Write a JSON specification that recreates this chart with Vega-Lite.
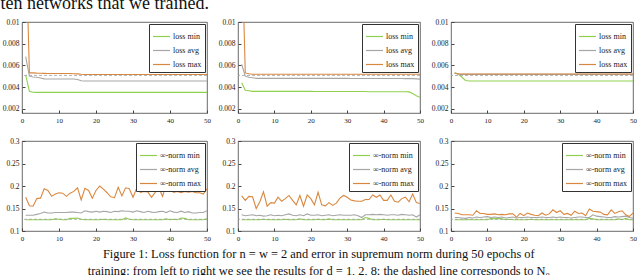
{
 "$schema": "https://vega.github.io/schema/vega-lite/v6.json",
 "padding": {"left": 0, "top": -6, "right": 0, "bottom": 0},
 "background": "white",
 "datasets": {
  "ref": [{"row": "loss", "value": 0.00507}, {"row": "norm", "value": 0.126}],
  "runs": [
{"p":"A","e":1,"min":0.0051,"avg":0.0068,"max":0.018},
{"p":"A","e":2,"min":0.0036,"avg":0.005,"max":0.0053},
{"p":"A","e":3,"min":0.00352,"avg":0.00492,"max":0.0053},
{"p":"A","e":4,"min":0.0035,"avg":0.0049,"max":0.00528},
{"p":"A","e":5,"min":0.0035,"avg":0.00483,"max":0.00527},
{"p":"A","e":6,"min":0.0035,"avg":0.00475,"max":0.00526},
{"p":"A","e":7,"min":0.0035,"avg":0.00474,"max":0.00524},
{"p":"A","e":8,"min":0.0035,"avg":0.00474,"max":0.00524},
{"p":"A","e":9,"min":0.0035,"avg":0.00474,"max":0.00524},
{"p":"A","e":10,"min":0.0035,"avg":0.00474,"max":0.00524},
{"p":"A","e":11,"min":0.0035,"avg":0.00474,"max":0.00524},
{"p":"A","e":12,"min":0.0035,"avg":0.00474,"max":0.00524},
{"p":"A","e":13,"min":0.0035,"avg":0.00474,"max":0.00524},
{"p":"A","e":14,"min":0.0035,"avg":0.00474,"max":0.00522},
{"p":"A","e":15,"min":0.0035,"avg":0.0047,"max":0.00521},
{"p":"A","e":16,"min":0.0035,"avg":0.00458,"max":0.00517},
{"p":"A","e":17,"min":0.0035,"avg":0.00455,"max":0.00516},
{"p":"A","e":18,"min":0.0035,"avg":0.00455,"max":0.00516},
{"p":"A","e":19,"min":0.0035,"avg":0.00455,"max":0.00516},
{"p":"A","e":20,"min":0.0035,"avg":0.00455,"max":0.00516},
{"p":"A","e":21,"min":0.0035,"avg":0.00455,"max":0.00516},
{"p":"A","e":22,"min":0.0035,"avg":0.00455,"max":0.00516},
{"p":"A","e":23,"min":0.0035,"avg":0.00455,"max":0.00516},
{"p":"A","e":24,"min":0.0035,"avg":0.00455,"max":0.00516},
{"p":"A","e":25,"min":0.0035,"avg":0.00455,"max":0.00516},
{"p":"A","e":26,"min":0.0035,"avg":0.00455,"max":0.00516},
{"p":"A","e":27,"min":0.0035,"avg":0.00455,"max":0.00516},
{"p":"A","e":28,"min":0.0035,"avg":0.00455,"max":0.00516},
{"p":"A","e":29,"min":0.0035,"avg":0.00455,"max":0.00516},
{"p":"A","e":30,"min":0.0035,"avg":0.00455,"max":0.00516},
{"p":"A","e":31,"min":0.0035,"avg":0.00455,"max":0.00516},
{"p":"A","e":32,"min":0.0035,"avg":0.00455,"max":0.00516},
{"p":"A","e":33,"min":0.0035,"avg":0.00455,"max":0.00516},
{"p":"A","e":34,"min":0.0035,"avg":0.00455,"max":0.00516},
{"p":"A","e":35,"min":0.0035,"avg":0.00455,"max":0.00516},
{"p":"A","e":36,"min":0.0035,"avg":0.00455,"max":0.00516},
{"p":"A","e":37,"min":0.0035,"avg":0.00455,"max":0.00516},
{"p":"A","e":38,"min":0.0035,"avg":0.00455,"max":0.00516},
{"p":"A","e":39,"min":0.0035,"avg":0.00455,"max":0.00516},
{"p":"A","e":40,"min":0.0035,"avg":0.00455,"max":0.00516},
{"p":"A","e":41,"min":0.0035,"avg":0.00455,"max":0.00516},
{"p":"A","e":42,"min":0.0035,"avg":0.00455,"max":0.00516},
{"p":"A","e":43,"min":0.0035,"avg":0.00455,"max":0.00516},
{"p":"A","e":44,"min":0.0035,"avg":0.00455,"max":0.00516},
{"p":"A","e":45,"min":0.0035,"avg":0.00455,"max":0.00516},
{"p":"A","e":46,"min":0.0035,"avg":0.00455,"max":0.00516},
{"p":"A","e":47,"min":0.0035,"avg":0.00455,"max":0.00516},
{"p":"A","e":48,"min":0.0035,"avg":0.00455,"max":0.00516},
{"p":"A","e":49,"min":0.0035,"avg":0.00455,"max":0.00516},
{"p":"A","e":50,"min":0.0035,"avg":0.00455,"max":0.00516},
{"p":"B","e":1,"min":0.0044,"avg":0.0061,"max":0.018},
{"p":"B","e":2,"min":0.0037,"avg":0.005,"max":0.0053},
{"p":"B","e":3,"min":0.00365,"avg":0.0049,"max":0.00522},
{"p":"B","e":4,"min":0.0036,"avg":0.00485,"max":0.00518},
{"p":"B","e":5,"min":0.0036,"avg":0.0048,"max":0.00518},
{"p":"B","e":6,"min":0.0036,"avg":0.0048,"max":0.00518},
{"p":"B","e":7,"min":0.0036,"avg":0.0048,"max":0.00518},
{"p":"B","e":8,"min":0.0036,"avg":0.0048,"max":0.00518},
{"p":"B","e":9,"min":0.0036,"avg":0.0048,"max":0.00518},
{"p":"B","e":10,"min":0.0036,"avg":0.0048,"max":0.00518},
{"p":"B","e":11,"min":0.0036,"avg":0.0048,"max":0.00518},
{"p":"B","e":12,"min":0.0036,"avg":0.0048,"max":0.00518},
{"p":"B","e":13,"min":0.0036,"avg":0.0048,"max":0.00518},
{"p":"B","e":14,"min":0.0036,"avg":0.0048,"max":0.00518},
{"p":"B","e":15,"min":0.0036,"avg":0.0048,"max":0.00518},
{"p":"B","e":16,"min":0.0036,"avg":0.0048,"max":0.00518},
{"p":"B","e":17,"min":0.0036,"avg":0.0048,"max":0.00518},
{"p":"B","e":18,"min":0.0036,"avg":0.0048,"max":0.00518},
{"p":"B","e":19,"min":0.0036,"avg":0.0048,"max":0.00518},
{"p":"B","e":20,"min":0.0036,"avg":0.0048,"max":0.00518},
{"p":"B","e":21,"min":0.00358,"avg":0.0048,"max":0.00518},
{"p":"B","e":22,"min":0.00358,"avg":0.0048,"max":0.00518},
{"p":"B","e":23,"min":0.00358,"avg":0.0048,"max":0.00518},
{"p":"B","e":24,"min":0.00358,"avg":0.0048,"max":0.00518},
{"p":"B","e":25,"min":0.00358,"avg":0.0048,"max":0.00518},
{"p":"B","e":26,"min":0.00358,"avg":0.0048,"max":0.00518},
{"p":"B","e":27,"min":0.00358,"avg":0.0048,"max":0.00518},
{"p":"B","e":28,"min":0.00358,"avg":0.0048,"max":0.00518},
{"p":"B","e":29,"min":0.00358,"avg":0.0048,"max":0.00518},
{"p":"B","e":30,"min":0.00358,"avg":0.0048,"max":0.00518},
{"p":"B","e":31,"min":0.00358,"avg":0.00478,"max":0.00518},
{"p":"B","e":32,"min":0.00358,"avg":0.00478,"max":0.00518},
{"p":"B","e":33,"min":0.00358,"avg":0.00478,"max":0.00518},
{"p":"B","e":34,"min":0.00358,"avg":0.00478,"max":0.00518},
{"p":"B","e":35,"min":0.00358,"avg":0.00478,"max":0.00518},
{"p":"B","e":36,"min":0.00356,"avg":0.00478,"max":0.00518},
{"p":"B","e":37,"min":0.00356,"avg":0.00478,"max":0.00518},
{"p":"B","e":38,"min":0.00356,"avg":0.00478,"max":0.00518},
{"p":"B","e":39,"min":0.00356,"avg":0.00478,"max":0.00518},
{"p":"B","e":40,"min":0.00356,"avg":0.00478,"max":0.00518},
{"p":"B","e":41,"min":0.00356,"avg":0.00478,"max":0.00518},
{"p":"B","e":42,"min":0.00356,"avg":0.00478,"max":0.00518},
{"p":"B","e":43,"min":0.00356,"avg":0.00478,"max":0.00518},
{"p":"B","e":44,"min":0.00356,"avg":0.00478,"max":0.00518},
{"p":"B","e":45,"min":0.00356,"avg":0.00478,"max":0.00518},
{"p":"B","e":46,"min":0.00356,"avg":0.00477,"max":0.00518},
{"p":"B","e":47,"min":0.00355,"avg":0.00477,"max":0.00518},
{"p":"B","e":48,"min":0.0034,"avg":0.00477,"max":0.00518},
{"p":"B","e":49,"min":0.0032,"avg":0.00475,"max":0.00518},
{"p":"B","e":50,"min":0.00305,"avg":0.00473,"max":0.00518},
{"p":"C","e":1,"min":0.0053,"avg":0.0053,"max":0.0053},
{"p":"C","e":2,"min":0.0052,"avg":0.00518,"max":0.00522},
{"p":"C","e":3,"min":0.0049,"avg":0.00517,"max":0.0052},
{"p":"C","e":4,"min":0.0046,"avg":0.00517,"max":0.0052},
{"p":"C","e":5,"min":0.00455,"avg":0.00517,"max":0.0052},
{"p":"C","e":6,"min":0.00455,"avg":0.00517,"max":0.0052},
{"p":"C","e":7,"min":0.00455,"avg":0.00517,"max":0.0052},
{"p":"C","e":8,"min":0.00455,"avg":0.00517,"max":0.0052},
{"p":"C","e":9,"min":0.00455,"avg":0.00517,"max":0.0052},
{"p":"C","e":10,"min":0.00455,"avg":0.00517,"max":0.0052},
{"p":"C","e":11,"min":0.00455,"avg":0.00517,"max":0.0052},
{"p":"C","e":12,"min":0.00455,"avg":0.00517,"max":0.0052},
{"p":"C","e":13,"min":0.00455,"avg":0.00517,"max":0.0052},
{"p":"C","e":14,"min":0.00455,"avg":0.00517,"max":0.0052},
{"p":"C","e":15,"min":0.00455,"avg":0.00517,"max":0.0052},
{"p":"C","e":16,"min":0.00455,"avg":0.00517,"max":0.0052},
{"p":"C","e":17,"min":0.00455,"avg":0.00517,"max":0.0052},
{"p":"C","e":18,"min":0.00455,"avg":0.00517,"max":0.0052},
{"p":"C","e":19,"min":0.00455,"avg":0.00517,"max":0.0052},
{"p":"C","e":20,"min":0.00455,"avg":0.00517,"max":0.0052},
{"p":"C","e":21,"min":0.00455,"avg":0.00517,"max":0.0052},
{"p":"C","e":22,"min":0.00455,"avg":0.00517,"max":0.0052},
{"p":"C","e":23,"min":0.00455,"avg":0.00517,"max":0.0052},
{"p":"C","e":24,"min":0.00455,"avg":0.00517,"max":0.0052},
{"p":"C","e":25,"min":0.00455,"avg":0.00517,"max":0.0052},
{"p":"C","e":26,"min":0.00455,"avg":0.00517,"max":0.0052},
{"p":"C","e":27,"min":0.00455,"avg":0.00517,"max":0.0052},
{"p":"C","e":28,"min":0.00455,"avg":0.00517,"max":0.0052},
{"p":"C","e":29,"min":0.00455,"avg":0.00517,"max":0.0052},
{"p":"C","e":30,"min":0.00455,"avg":0.00517,"max":0.0052},
{"p":"C","e":31,"min":0.00455,"avg":0.00517,"max":0.0052},
{"p":"C","e":32,"min":0.00455,"avg":0.00517,"max":0.0052},
{"p":"C","e":33,"min":0.00455,"avg":0.00517,"max":0.0052},
{"p":"C","e":34,"min":0.00455,"avg":0.00517,"max":0.0052},
{"p":"C","e":35,"min":0.00455,"avg":0.00517,"max":0.0052},
{"p":"C","e":36,"min":0.00455,"avg":0.00517,"max":0.0052},
{"p":"C","e":37,"min":0.00455,"avg":0.00517,"max":0.0052},
{"p":"C","e":38,"min":0.00455,"avg":0.00517,"max":0.0052},
{"p":"C","e":39,"min":0.00455,"avg":0.00517,"max":0.0052},
{"p":"C","e":40,"min":0.00455,"avg":0.00517,"max":0.0052},
{"p":"C","e":41,"min":0.00455,"avg":0.00517,"max":0.0052},
{"p":"C","e":42,"min":0.00455,"avg":0.00517,"max":0.0052},
{"p":"C","e":43,"min":0.00455,"avg":0.00517,"max":0.0052},
{"p":"C","e":44,"min":0.00455,"avg":0.00517,"max":0.0052},
{"p":"C","e":45,"min":0.00455,"avg":0.00517,"max":0.0052},
{"p":"C","e":46,"min":0.00455,"avg":0.00517,"max":0.0052},
{"p":"C","e":47,"min":0.00455,"avg":0.00517,"max":0.0052},
{"p":"C","e":48,"min":0.00455,"avg":0.00517,"max":0.0052},
{"p":"C","e":49,"min":0.00455,"avg":0.00517,"max":0.0052},
{"p":"C","e":50,"min":0.00455,"avg":0.00517,"max":0.0052},
{"p":"D","e":1,"min":0.125,"avg":0.135,"max":0.175},
{"p":"D","e":2,"min":0.125,"avg":0.135,"max":0.156},
{"p":"D","e":3,"min":0.125,"avg":0.135,"max":0.155},
{"p":"D","e":4,"min":0.125,"avg":0.137,"max":0.172},
{"p":"D","e":5,"min":0.125,"avg":0.139,"max":0.173},
{"p":"D","e":6,"min":0.125,"avg":0.142,"max":0.194},
{"p":"D","e":7,"min":0.125,"avg":0.14,"max":0.19},
{"p":"D","e":8,"min":0.125,"avg":0.14,"max":0.177},
{"p":"D","e":9,"min":0.127,"avg":0.141,"max":0.182},
{"p":"D","e":10,"min":0.126,"avg":0.141,"max":0.185},
{"p":"D","e":11,"min":0.125,"avg":0.141,"max":0.184},
{"p":"D","e":12,"min":0.125,"avg":0.141,"max":0.177},
{"p":"D","e":13,"min":0.128,"avg":0.142,"max":0.184},
{"p":"D","e":14,"min":0.128,"avg":0.142,"max":0.188},
{"p":"D","e":15,"min":0.129,"avg":0.141,"max":0.196},
{"p":"D","e":16,"min":0.126,"avg":0.14,"max":0.169},
{"p":"D","e":17,"min":0.125,"avg":0.145,"max":0.195},
{"p":"D","e":18,"min":0.125,"avg":0.143,"max":0.19},
{"p":"D","e":19,"min":0.125,"avg":0.142,"max":0.173},
{"p":"D","e":20,"min":0.125,"avg":0.144,"max":0.19},
{"p":"D","e":21,"min":0.125,"avg":0.142,"max":0.2},
{"p":"D","e":22,"min":0.126,"avg":0.144,"max":0.193},
{"p":"D","e":23,"min":0.125,"avg":0.143,"max":0.185},
{"p":"D","e":24,"min":0.125,"avg":0.141,"max":0.176},
{"p":"D","e":25,"min":0.125,"avg":0.144,"max":0.174},
{"p":"D","e":26,"min":0.125,"avg":0.143,"max":0.197},
{"p":"D","e":27,"min":0.125,"avg":0.145,"max":0.178},
{"p":"D","e":28,"min":0.129,"avg":0.144,"max":0.196},
{"p":"D","e":29,"min":0.126,"avg":0.144,"max":0.194},
{"p":"D","e":30,"min":0.125,"avg":0.142,"max":0.175},
{"p":"D","e":31,"min":0.125,"avg":0.145,"max":0.195},
{"p":"D","e":32,"min":0.125,"avg":0.143,"max":0.186},
{"p":"D","e":33,"min":0.125,"avg":0.141,"max":0.188},
{"p":"D","e":34,"min":0.125,"avg":0.144,"max":0.187},
{"p":"D","e":35,"min":0.125,"avg":0.142,"max":0.175},
{"p":"D","e":36,"min":0.125,"avg":0.141,"max":0.186},
{"p":"D","e":37,"min":0.125,"avg":0.143,"max":0.195},
{"p":"D","e":38,"min":0.125,"avg":0.144,"max":0.177},
{"p":"D","e":39,"min":0.127,"avg":0.141,"max":0.205},
{"p":"D","e":40,"min":0.125,"avg":0.145,"max":0.192},
{"p":"D","e":41,"min":0.126,"avg":0.142,"max":0.186},
{"p":"D","e":42,"min":0.125,"avg":0.141,"max":0.188},
{"p":"D","e":43,"min":0.129,"avg":0.144,"max":0.185},
{"p":"D","e":44,"min":0.128,"avg":0.141,"max":0.188},
{"p":"D","e":45,"min":0.125,"avg":0.143,"max":0.186},
{"p":"D","e":46,"min":0.125,"avg":0.14,"max":0.188},
{"p":"D","e":47,"min":0.125,"avg":0.14,"max":0.185},
{"p":"D","e":48,"min":0.125,"avg":0.141,"max":0.185},
{"p":"D","e":49,"min":0.125,"avg":0.141,"max":0.182},
{"p":"D","e":50,"min":0.127,"avg":0.145,"max":0.194},
{"p":"E","e":1,"min":0.125,"avg":0.136,"max":0.178},
{"p":"E","e":2,"min":0.125,"avg":0.134,"max":0.168},
{"p":"E","e":3,"min":0.125,"avg":0.135,"max":0.177},
{"p":"E","e":4,"min":0.125,"avg":0.136,"max":0.176},
{"p":"E","e":5,"min":0.125,"avg":0.134,"max":0.15},
{"p":"E","e":6,"min":0.125,"avg":0.135,"max":0.165},
{"p":"E","e":7,"min":0.126,"avg":0.133,"max":0.187},
{"p":"E","e":8,"min":0.125,"avg":0.134,"max":0.155},
{"p":"E","e":9,"min":0.125,"avg":0.136,"max":0.163},
{"p":"E","e":10,"min":0.125,"avg":0.134,"max":0.162},
{"p":"E","e":11,"min":0.125,"avg":0.135,"max":0.175},
{"p":"E","e":12,"min":0.125,"avg":0.134,"max":0.166},
{"p":"E","e":13,"min":0.126,"avg":0.136,"max":0.172},
{"p":"E","e":14,"min":0.125,"avg":0.138,"max":0.179},
{"p":"E","e":15,"min":0.125,"avg":0.135,"max":0.168},
{"p":"E","e":16,"min":0.125,"avg":0.134,"max":0.158},
{"p":"E","e":17,"min":0.127,"avg":0.136,"max":0.179},
{"p":"E","e":18,"min":0.125,"avg":0.134,"max":0.155},
{"p":"E","e":19,"min":0.125,"avg":0.138,"max":0.18},
{"p":"E","e":20,"min":0.125,"avg":0.135,"max":0.172},
{"p":"E","e":21,"min":0.125,"avg":0.135,"max":0.158},
{"p":"E","e":22,"min":0.126,"avg":0.136,"max":0.186},
{"p":"E","e":23,"min":0.125,"avg":0.134,"max":0.158},
{"p":"E","e":24,"min":0.125,"avg":0.135,"max":0.156},
{"p":"E","e":25,"min":0.127,"avg":0.136,"max":0.163},
{"p":"E","e":26,"min":0.125,"avg":0.134,"max":0.157},
{"p":"E","e":27,"min":0.125,"avg":0.135,"max":0.162},
{"p":"E","e":28,"min":0.125,"avg":0.136,"max":0.173},
{"p":"E","e":29,"min":0.125,"avg":0.135,"max":0.179},
{"p":"E","e":30,"min":0.125,"avg":0.135,"max":0.175},
{"p":"E","e":31,"min":0.125,"avg":0.135,"max":0.169},
{"p":"E","e":32,"min":0.125,"avg":0.136,"max":0.167},
{"p":"E","e":33,"min":0.125,"avg":0.134,"max":0.166},
{"p":"E","e":34,"min":0.125,"avg":0.13,"max":0.166},
{"p":"E","e":35,"min":0.13,"avg":0.136,"max":0.17},
{"p":"E","e":36,"min":0.128,"avg":0.136,"max":0.17},
{"p":"E","e":37,"min":0.125,"avg":0.137,"max":0.18},
{"p":"E","e":38,"min":0.125,"avg":0.136,"max":0.175},
{"p":"E","e":39,"min":0.125,"avg":0.137,"max":0.18},
{"p":"E","e":40,"min":0.126,"avg":0.136,"max":0.168},
{"p":"E","e":41,"min":0.125,"avg":0.135,"max":0.168},
{"p":"E","e":42,"min":0.125,"avg":0.136,"max":0.18},
{"p":"E","e":43,"min":0.125,"avg":0.136,"max":0.166},
{"p":"E","e":44,"min":0.125,"avg":0.135,"max":0.164},
{"p":"E","e":45,"min":0.125,"avg":0.137,"max":0.172},
{"p":"E","e":46,"min":0.125,"avg":0.136,"max":0.175},
{"p":"E","e":47,"min":0.125,"avg":0.135,"max":0.165},
{"p":"E","e":48,"min":0.125,"avg":0.136,"max":0.182},
{"p":"E","e":49,"min":0.125,"avg":0.131,"max":0.163},
{"p":"E","e":50,"min":0.125,"avg":0.136,"max":0.161},
{"p":"F","e":1,"min":0.125,"avg":0.13,"max":0.14},
{"p":"F","e":2,"min":0.125,"avg":0.13,"max":0.139},
{"p":"F","e":3,"min":0.125,"avg":0.129,"max":0.136},
{"p":"F","e":4,"min":0.125,"avg":0.128,"max":0.136},
{"p":"F","e":5,"min":0.125,"avg":0.13,"max":0.136},
{"p":"F","e":6,"min":0.125,"avg":0.129,"max":0.135},
{"p":"F","e":7,"min":0.125,"avg":0.131,"max":0.145},
{"p":"F","e":8,"min":0.125,"avg":0.13,"max":0.139},
{"p":"F","e":9,"min":0.125,"avg":0.131,"max":0.139},
{"p":"F","e":10,"min":0.125,"avg":0.132,"max":0.137},
{"p":"F","e":11,"min":0.128,"avg":0.13,"max":0.137},
{"p":"F","e":12,"min":0.127,"avg":0.131,"max":0.138},
{"p":"F","e":13,"min":0.128,"avg":0.13,"max":0.136},
{"p":"F","e":14,"min":0.127,"avg":0.131,"max":0.137},
{"p":"F","e":15,"min":0.125,"avg":0.129,"max":0.136},
{"p":"F","e":16,"min":0.126,"avg":0.13,"max":0.138},
{"p":"F","e":17,"min":0.125,"avg":0.131,"max":0.138},
{"p":"F","e":18,"min":0.125,"avg":0.129,"max":0.131},
{"p":"F","e":19,"min":0.125,"avg":0.13,"max":0.139},
{"p":"F","e":20,"min":0.125,"avg":0.13,"max":0.134},
{"p":"F","e":21,"min":0.125,"avg":0.131,"max":0.14},
{"p":"F","e":22,"min":0.126,"avg":0.13,"max":0.137},
{"p":"F","e":23,"min":0.125,"avg":0.13,"max":0.135},
{"p":"F","e":24,"min":0.125,"avg":0.13,"max":0.134},
{"p":"F","e":25,"min":0.125,"avg":0.131,"max":0.14},
{"p":"F","e":26,"min":0.125,"avg":0.13,"max":0.135},
{"p":"F","e":27,"min":0.125,"avg":0.13,"max":0.138},
{"p":"F","e":28,"min":0.125,"avg":0.131,"max":0.147},
{"p":"F","e":29,"min":0.125,"avg":0.13,"max":0.141},
{"p":"F","e":30,"min":0.125,"avg":0.131,"max":0.145},
{"p":"F","e":31,"min":0.125,"avg":0.13,"max":0.137},
{"p":"F","e":32,"min":0.125,"avg":0.13,"max":0.139},
{"p":"F","e":33,"min":0.125,"avg":0.129,"max":0.135},
{"p":"F","e":34,"min":0.125,"avg":0.13,"max":0.144},
{"p":"F","e":35,"min":0.125,"avg":0.131,"max":0.139},
{"p":"F","e":36,"min":0.125,"avg":0.131,"max":0.14},
{"p":"F","e":37,"min":0.125,"avg":0.13,"max":0.134},
{"p":"F","e":38,"min":0.128,"avg":0.13,"max":0.149},
{"p":"F","e":39,"min":0.127,"avg":0.136,"max":0.144},
{"p":"F","e":40,"min":0.125,"avg":0.133,"max":0.143},
{"p":"F","e":41,"min":0.125,"avg":0.132,"max":0.142},
{"p":"F","e":42,"min":0.125,"avg":0.131,"max":0.137},
{"p":"F","e":43,"min":0.125,"avg":0.13,"max":0.136},
{"p":"F","e":44,"min":0.125,"avg":0.13,"max":0.147},
{"p":"F","e":45,"min":0.125,"avg":0.132,"max":0.139},
{"p":"F","e":46,"min":0.127,"avg":0.131,"max":0.143},
{"p":"F","e":47,"min":0.125,"avg":0.132,"max":0.145},
{"p":"F","e":48,"min":0.128,"avg":0.133,"max":0.136},
{"p":"F","e":49,"min":0.125,"avg":0.13,"max":0.132},
{"p":"F","e":50,"min":0.125,"avg":0.129,"max":0.14}
  ]
 },
 "title": {"text": "ten networks that we trained.", "anchor": "start", "fontSize": 18, "fontWeight": "normal", "font": "Liberation Serif", "color": "#111", "offset": 5},
 "spacing": 12,
 "resolve": {"scale": {"x": "independent", "y": "independent", "color": "independent"}},
 "vconcat": [
  {
   "spacing": 5,
   "resolve": {"scale": {"x": "independent", "y": "independent", "color": "independent"}},
   "hconcat": [
    {"width": 185, "height": 91, "layer": [
     {"data": {"name": "runs"}, "transform": [{"filter": "datum.p == 'A'"}, {"fold": ["min", "avg", "max"], "as": ["stat", "value"]}],
      "mark": {"type": "line", "clip": true, "strokeWidth": 1.1},
      "encoding": {
       "x": {"field": "e", "type": "quantitative", "title": null, "scale": {"domain": [0, 50], "nice": false}, "axis": {"values": [0, 10, 20, 30, 40, 50]}},
       "y": {"field": "value", "type": "quantitative", "title": null, "scale": {"domain": [0.0016, 0.01], "nice": false, "zero": false}, "axis": {"values": [0.002, 0.004, 0.006, 0.008, 0.01], "format": "~g"}},
       "color": {"field": "stat", "type": "nominal", "scale": {"domain": ["min", "avg", "max"], "range": ["#8fd14f", "#a6a6a6", "#d9883f"]}, "legend": {"title": null, "labelExpr": "'loss ' + datum.label"}}}},
     {"data": {"name": "ref"}, "transform": [{"filter": "datum.row == 'loss'"}],
      "mark": {"type": "rule", "strokeDash": [3, 2], "color": "#a0a0a0", "strokeWidth": 0.8},
      "encoding": {"y": {"field": "value", "type": "quantitative", "title": null, "scale": {"domain": [0.0016, 0.01], "nice": false, "zero": false}, "axis": {"values": [0.002, 0.004, 0.006, 0.008, 0.01], "format": "~g"}}}}
    ]},
    {"width": 182, "height": 91, "layer": [
     {"data": {"name": "runs"}, "transform": [{"filter": "datum.p == 'B'"}, {"fold": ["min", "avg", "max"], "as": ["stat", "value"]}],
      "mark": {"type": "line", "clip": true, "strokeWidth": 1.1},
      "encoding": {
       "x": {"field": "e", "type": "quantitative", "title": null, "scale": {"domain": [0, 50], "nice": false}, "axis": {"values": [0, 10, 20, 30, 40, 50]}},
       "y": {"field": "value", "type": "quantitative", "title": null, "scale": {"domain": [0.0016, 0.01], "nice": false, "zero": false}, "axis": {"values": [0.002, 0.004, 0.006, 0.008, 0.01], "format": "~g"}},
       "color": {"field": "stat", "type": "nominal", "scale": {"domain": ["min", "avg", "max"], "range": ["#8fd14f", "#a6a6a6", "#d9883f"]}, "legend": {"title": null, "labelExpr": "'loss ' + datum.label"}}}},
     {"data": {"name": "ref"}, "transform": [{"filter": "datum.row == 'loss'"}],
      "mark": {"type": "rule", "strokeDash": [3, 2], "color": "#a0a0a0", "strokeWidth": 0.8},
      "encoding": {"y": {"field": "value", "type": "quantitative", "title": null, "scale": {"domain": [0.0016, 0.01], "nice": false, "zero": false}, "axis": {"values": [0.002, 0.004, 0.006, 0.008, 0.01], "format": "~g"}}}}
    ]},
    {"width": 182, "height": 91, "layer": [
     {"data": {"name": "runs"}, "transform": [{"filter": "datum.p == 'C'"}, {"fold": ["min", "avg", "max"], "as": ["stat", "value"]}],
      "mark": {"type": "line", "clip": true, "strokeWidth": 1.1},
      "encoding": {
       "x": {"field": "e", "type": "quantitative", "title": null, "scale": {"domain": [0, 50], "nice": false}, "axis": {"values": [0, 10, 20, 30, 40, 50]}},
       "y": {"field": "value", "type": "quantitative", "title": null, "scale": {"domain": [0.0016, 0.01], "nice": false, "zero": false}, "axis": {"values": [0.002, 0.004, 0.006, 0.008, 0.01], "format": "~g"}},
       "color": {"field": "stat", "type": "nominal", "scale": {"domain": ["min", "avg", "max"], "range": ["#8fd14f", "#a6a6a6", "#d9883f"]}, "legend": {"title": null, "labelExpr": "'loss ' + datum.label"}}}},
     {"data": {"name": "ref"}, "transform": [{"filter": "datum.row == 'loss'"}],
      "mark": {"type": "rule", "strokeDash": [3, 2], "color": "#a0a0a0", "strokeWidth": 0.8},
      "encoding": {"y": {"field": "value", "type": "quantitative", "title": null, "scale": {"domain": [0.0016, 0.01], "nice": false, "zero": false}, "axis": {"values": [0.002, 0.004, 0.006, 0.008, 0.01], "format": "~g"}}}}
    ]}
   ]
  },
  {
   "spacing": 5,
   "resolve": {"scale": {"x": "independent", "y": "independent", "color": "independent"}},
   "title": {"text": ["Figure 1: Loss function for n = w = 2 and error in supremum norm during 50 epochs of", "training: from left to right we see the results for d = 1, 2, 8; the dashed line corresponds to N₀"], "orient": "bottom", "anchor": "middle", "fontSize": 12.4, "fontWeight": "normal", "font": "Liberation Serif", "color": "#111", "lineHeight": 17, "offset": 7},
   "hconcat": [
    {"width": 185, "height": 90, "layer": [
     {"data": {"name": "runs"}, "transform": [{"filter": "datum.p == 'D'"}, {"fold": ["min", "avg", "max"], "as": ["stat", "value"]}],
      "mark": {"type": "line", "clip": true, "strokeWidth": 1.1},
      "encoding": {
       "x": {"field": "e", "type": "quantitative", "title": null, "scale": {"domain": [0, 50], "nice": false}, "axis": {"values": [0, 10, 20, 30, 40, 50]}},
       "y": {"field": "value", "type": "quantitative", "title": null, "scale": {"domain": [0.1, 0.3], "nice": false, "zero": false}, "axis": {"values": [0.1, 0.15, 0.2, 0.25, 0.3], "format": "~g"}},
       "color": {"field": "stat", "type": "nominal", "scale": {"domain": ["min", "avg", "max"], "range": ["#8fd14f", "#a6a6a6", "#d9883f"]}, "legend": {"title": null, "labelExpr": "'∞-norm ' + datum.label"}}}},
     {"data": {"name": "ref"}, "transform": [{"filter": "datum.row == 'norm'"}],
      "mark": {"type": "rule", "strokeDash": [3, 2], "color": "#a0a0a0", "strokeWidth": 0.8},
      "encoding": {"y": {"field": "value", "type": "quantitative", "title": null, "scale": {"domain": [0.1, 0.3], "nice": false, "zero": false}, "axis": {"values": [0.1, 0.15, 0.2, 0.25, 0.3], "format": "~g"}}}}
    ]},
    {"width": 182, "height": 90, "layer": [
     {"data": {"name": "runs"}, "transform": [{"filter": "datum.p == 'E'"}, {"fold": ["min", "avg", "max"], "as": ["stat", "value"]}],
      "mark": {"type": "line", "clip": true, "strokeWidth": 1.1},
      "encoding": {
       "x": {"field": "e", "type": "quantitative", "title": null, "scale": {"domain": [0, 50], "nice": false}, "axis": {"values": [0, 10, 20, 30, 40, 50]}},
       "y": {"field": "value", "type": "quantitative", "title": null, "scale": {"domain": [0.1, 0.3], "nice": false, "zero": false}, "axis": {"values": [0.1, 0.15, 0.2, 0.25, 0.3], "format": "~g"}},
       "color": {"field": "stat", "type": "nominal", "scale": {"domain": ["min", "avg", "max"], "range": ["#8fd14f", "#a6a6a6", "#d9883f"]}, "legend": {"title": null, "labelExpr": "'∞-norm ' + datum.label"}}}},
     {"data": {"name": "ref"}, "transform": [{"filter": "datum.row == 'norm'"}],
      "mark": {"type": "rule", "strokeDash": [3, 2], "color": "#a0a0a0", "strokeWidth": 0.8},
      "encoding": {"y": {"field": "value", "type": "quantitative", "title": null, "scale": {"domain": [0.1, 0.3], "nice": false, "zero": false}, "axis": {"values": [0.1, 0.15, 0.2, 0.25, 0.3], "format": "~g"}}}}
    ]},
    {"width": 182, "height": 90, "layer": [
     {"data": {"name": "runs"}, "transform": [{"filter": "datum.p == 'F'"}, {"fold": ["min", "avg", "max"], "as": ["stat", "value"]}],
      "mark": {"type": "line", "clip": true, "strokeWidth": 1.1},
      "encoding": {
       "x": {"field": "e", "type": "quantitative", "title": null, "scale": {"domain": [0, 50], "nice": false}, "axis": {"values": [0, 10, 20, 30, 40, 50]}},
       "y": {"field": "value", "type": "quantitative", "title": null, "scale": {"domain": [0.1, 0.3], "nice": false, "zero": false}, "axis": {"values": [0.1, 0.15, 0.2, 0.25, 0.3], "format": "~g"}},
       "color": {"field": "stat", "type": "nominal", "scale": {"domain": ["min", "avg", "max"], "range": ["#8fd14f", "#a6a6a6", "#d9883f"]}, "legend": {"title": null, "labelExpr": "'∞-norm ' + datum.label"}}}},
     {"data": {"name": "ref"}, "transform": [{"filter": "datum.row == 'norm'"}],
      "mark": {"type": "rule", "strokeDash": [3, 2], "color": "#a0a0a0", "strokeWidth": 0.8},
      "encoding": {"y": {"field": "value", "type": "quantitative", "title": null, "scale": {"domain": [0.1, 0.3], "nice": false, "zero": false}, "axis": {"values": [0.1, 0.15, 0.2, 0.25, 0.3], "format": "~g"}}}}
    ]}
   ]
  }
 ],
 "config": {
  "font": "Liberation Serif",
  "view": {"stroke": "#444", "strokeWidth": 0.8},
  "axis": {"labelFont": "Liberation Serif", "labelFontSize": 7, "labelColor": "#222", "domain": false, "grid": false, "tickColor": "#444", "tickSize": -3, "labelPadding": 6, "labelFlush": false},
  "axisY": {"minExtent": 21, "maxExtent": 21, "labelFontSize": 7.5},
  "legend": {"orient": "top-right", "offset": 2, "strokeColor": "#333", "fillColor": "white", "padding": 3, "labelFont": "Liberation Serif", "labelFontSize": 8, "labelColor": "#222", "symbolType": "stroke", "symbolSize": 289, "symbolStrokeWidth": 1.2, "rowPadding": -1, "labelOffset": 2}
 }
}
